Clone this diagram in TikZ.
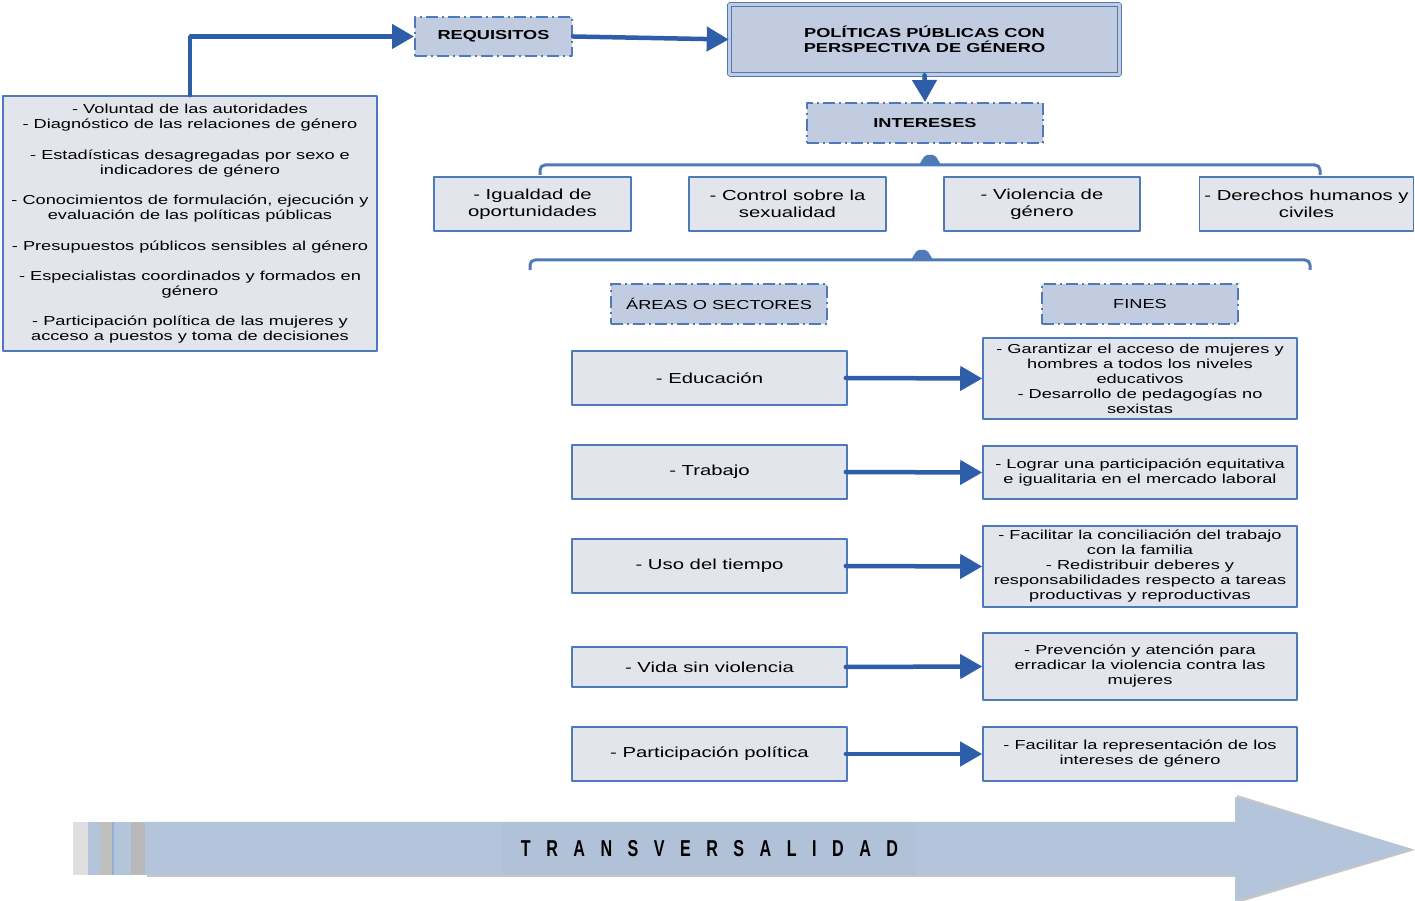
\documentclass[tikz,border=0pt]{standalone}
\usepackage{fontspec}
\setmainfont{Liberation Sans}[FakeStretch=1.4]
\newfontfamily\transfont{Liberation Sans}[FakeStretch=0.7]
\usepackage{tikz}
\usetikzlibrary{arrows.meta,shapes}
\definecolor{boxfill}{HTML}{E2E5EB}
\definecolor{headfill}{HTML}{C1CCE0}
\definecolor{boxline}{HTML}{4F7AB8}
\definecolor{arrowblue}{HTML}{2E5EA8}
\definecolor{transfill}{HTML}{B3C4DB}
\newcommand{\lsp}{\hskip 15.5bp}

\begin{document}
\begin{tikzpicture}[>={Triangle[length=22bp,width=24bp]},line join=bevel,
  plainbox/.style={draw=boxline,fill=boxfill,line width=1.6bp,align=center,inner sep=2bp},
  headbox/.style={draw=boxline,fill=headfill,line width=2bp,dash pattern=on 12bp off 4bp on 2bp off 4bp,align=center},
  small/.style={font=\fontsize{13bp}{15bp}\selectfont},
  smallbold/.style={font=\bfseries\fontsize{13bp}{15bp}\selectfont},
  large/.style={font=\fontsize{14.5bp}{17bp}\selectfont},
  link/.style={->,draw=arrowblue,line width=4.5bp,line cap=round},
  brace/.style={draw=boxline,line width=3bp,rounded corners=5bp},
  ]
\useasboundingbox (0bp,0bp) rectangle (1415bp,901bp);
%%
\node (req) at (493.5bp,864.5bp) [headbox, smallbold, minimum width=157bp, minimum height=39bp] {REQUISITOS};
  \node (pol) at (924.5bp,861.5bp) [draw=boxline, line width=1.6bp, double=headfill, double distance=2.5bp, fill=headfill, align=center, smallbold, minimum width=390bp, minimum height=70bp] {POLÍTICAS PÚBLICAS CON\\PERSPECTIVA DE GÉNERO};
  \node (int) at (925bp,778bp) [headbox, smallbold, minimum width=236bp, minimum height=40bp] {INTERESES};
  %% requisitos
  \node (reqlist) at (190bp,677.5bp) [plainbox, small, minimum width=374bp, minimum height=255bp] {- Voluntad de las autoridades\\- Diagnóstico de las relaciones de género\\[16bp]- Estadísticas desagregadas por sexo e\\indicadores de género\\[15bp]- Conocimientos de formulación, ejecución y\\evaluación de las políticas públicas\\[16bp]- Presupuestos públicos sensibles al género\\[15bp]- Especialistas coordinados y formados en\\género\\[15bp]- Participación política de las mujeres y\\acceso a puestos y toma de decisiones};
  %% intereses
  \node (igu) at (532.5bp,697bp) [plainbox, large, minimum width=197bp, minimum height=54bp] {- Igualdad de\\oportunidades};
  \node (sex) at (787.5bp,697bp) [plainbox, large, minimum width=197bp, minimum height=54bp] {- Control sobre la\\sexualidad};
  \node (vio) at (1042bp,697bp) [plainbox, large, minimum width=196bp, minimum height=54bp] {- Violencia de\\género};
  \node (der) at (1306.5bp,697bp) [plainbox, large, minimum width=214bp, minimum height=54bp] {- Derechos humanos y\\civiles};
  %% areas y fines
  \node (areas) at (719bp,597bp) [headbox, small, minimum width=216bp, minimum height=40bp] {ÁREAS O SECTORES};
  \node (fines) at (1140bp,597bp) [headbox, small, minimum width=196bp, minimum height=40bp] {FINES};
  \node (edu) at (709.5bp,523bp) [plainbox, large, minimum width=275bp, minimum height=54bp] {- Educación};
  \node (tra) at (709.5bp,429bp) [plainbox, large, minimum width=275bp, minimum height=54bp] {- Trabajo};
  \node (uso) at (709.5bp,335bp) [plainbox, large, minimum width=275bp, minimum height=54bp] {- Uso del tiempo};
  \node (vsv) at (709.5bp,234bp) [plainbox, large, minimum width=275bp, minimum height=40bp] {- Vida sin violencia};
  \node (par) at (709.5bp,147bp) [plainbox, large, minimum width=275bp, minimum height=54bp] {- Participación política};
  \node (fedu) at (1140bp,522.5bp) [plainbox, small, minimum width=314bp, minimum height=81bp] {- Garantizar el acceso de mujeres y\\hombres a todos los niveles\\educativos\\- Desarrollo de pedagogías no\\sexistas};
  \node (ftra) at (1140bp,428.5bp) [plainbox, small, minimum width=314bp, minimum height=53bp] {- Lograr una participación equitativa\\e igualitaria en el mercado laboral};
  \node (fuso) at (1140bp,334.5bp) [plainbox, small, minimum width=314bp, minimum height=81bp] {- Facilitar la conciliación del trabajo\\con la familia\\- Redistribuir deberes y\\responsabilidades respecto a tareas\\productivas y reproductivas};
  \node (fvsv) at (1140bp,234.5bp) [plainbox, small, minimum width=314bp, minimum height=67bp] {- Prevención y atención para\\erradicar la violencia contra las\\mujeres};
  \node (fpar) at (1140bp,147bp) [plainbox, small, minimum width=314bp, minimum height=54bp] {- Facilitar la representación de los\\intereses de género};
%
\draw [link] (reqlist.north) |- (req.west);
  \draw [link] (req.east) -- (pol.west);
  \draw [link] (pol.south) -- (int.north);
  \foreach \a/\f in {edu/fedu,tra/ftra,uso/fuso,vsv/fvsv,par/fpar}
    \draw [link] ([xshift=-2bp]\a.east) -- (\f.west);
%% llaves
\coordinate (b1l) at (540bp,726bp);
  \coordinate (b1r) at (1320bp,726bp);
  \coordinate (b1m) at (930bp,736bp);
  \draw [brace] (b1l) -- ++(0,10bp) -- ([yshift=10bp]b1r) -- (b1r);
  \fill [boxline, rounded corners=2bp] ([xshift=-11bp]b1m) -- ([xshift=-5bp,yshift=10bp]b1m) -- ([xshift=5bp,yshift=10bp]b1m) -- ([xshift=11bp]b1m) -- cycle;
  \coordinate (b2l) at (530bp,631bp);
  \coordinate (b2r) at (1310bp,631bp);
  \coordinate (b2m) at (922bp,641bp);
  \draw [brace] (b2l) -- ++(0,10bp) -- ([yshift=10bp]b2r) -- (b2r);
  \fill [boxline, rounded corners=2bp] ([xshift=-11bp]b2m) -- ([xshift=-5bp,yshift=10bp]b2m) -- ([xshift=5bp,yshift=10bp]b2m) -- ([xshift=11bp]b2m) -- cycle;
%% transversalidad
\fill [gray!45] (147bp,24bp) -- (1237bp,24bp) -- (1237bp,-2bp) -- (1415bp,51bp) -- (1237bp,106bp) -- (1237bp,77bp) -- (147bp,77bp) -- cycle;
  \fill [transfill] (145bp,26bp) -- (1235bp,26bp) -- (1235bp,0bp) -- (1412bp,52bp) -- (1235bp,104bp) -- (1235bp,79bp) -- (145bp,79bp) -- cycle;
  \fill [transfill!98.5!black] (501bp,26bp) rectangle (916bp,79bp);
  \fill [gray!25] (73bp,26bp) rectangle (88bp,79bp);
  \fill [transfill] (88bp,26bp) rectangle (100bp,79bp);
  \fill [gray!50] (100bp,26bp) rectangle (112bp,79bp);
  \fill [transfill] (112bp,26bp) rectangle (131bp,79bp);
  \fill [boxline!60] (112bp,26bp) rectangle (113.5bp,79bp);
  \fill [gray!55] (131bp,26bp) rectangle (145bp,79bp);
  \node (trans) at (709.5bp,52bp) {\transfont\bfseries\fontsize{23bp}{23bp}\selectfont T\lsp R\lsp A\lsp N\lsp S\lsp V\lsp E\lsp R\lsp S\lsp A\lsp L\lsp I\lsp D\lsp A\lsp D};
%
\end{tikzpicture}
\end{document}
